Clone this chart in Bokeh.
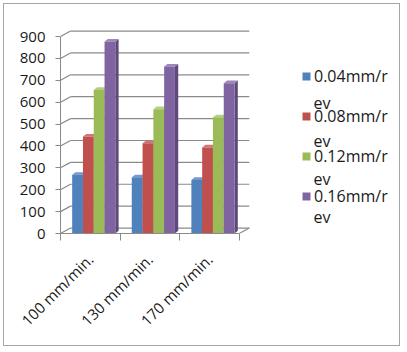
import math
from bokeh.plotting import figure
from bokeh.models import FixedTicker, Legend, LegendItem, Range1d, Label
from bokeh.embed import file_html
from bokeh.resources import INLINE

# ---- data ----
categories = ["100 mm/min.", "130 mm/min.", "170 mm/min."]
series_first_line = ["0.04mm/r", "0.08mm/r", "0.12mm/r", "0.16mm/r"]
series_second_line = "ev"
feed_004 = [268, 257, 245]
feed_008 = [443, 412, 393]
feed_012 = [656, 568, 531]
feed_016 = [877, 763, 687]
y_ticks = [0, 100, 200, 300, 400, 500, 600, 700, 800, 900]

series_values = [feed_004, feed_008, feed_012, feed_016]
front_colors = ["#4F81BD", "#C0504D", "#9BBB59", "#8064A2"]
side_colors = ["#3A5F8E", "#923B39", "#738D40", "#5E4A7A"]
top_colors = ["#7398CC", "#D47572", "#B5CF80", "#9C86BB"]

FONT = "Open Sans"
GRAY = "#8a8a8a"

W, H = 397, 343
n_cat = len(categories)
wall_dx = 0.168
wall_dy = 25.0
bar_dx = 0.055
bar_dy = 12.0
bar_w = 0.181
bar_off = 0.196

FRAME_L, FRAME_R = 56, 393
px_per_unit = 59.6
p = figure(width=W, height=H, output_backend="svg", toolbar_location=None,
           x_range=Range1d(0, (FRAME_R - FRAME_L) / px_per_unit), y_range=Range1d(0, 955),
           min_border_left=FRAME_L, min_border_right=W - FRAME_R,
           min_border_top=20, min_border_bottom=H - 229)
p.margin = (3, 0, 0, 3)
p.styles = {"border": "1px solid #a6a6a6"}
p.xgrid.visible = False
p.ygrid.visible = False
p.outline_line_color = None

# back wall gridlines
gx0, gy0, gx1, gy1 = [], [], [], []
for v in y_ticks:
    gx0 += [0, wall_dx]
    gy0 += [v, v + wall_dy]
    gx1 += [wall_dx, n_cat + wall_dx]
    gy1 += [v + wall_dy, v + wall_dy]
gx0.append(n_cat); gy0.append(0); gx1.append(n_cat + wall_dx); gy1.append(wall_dy)
p.segment(x0=gx0, y0=gy0, x1=gx1, y1=gy1, line_color=GRAY, line_width=1.2)

# bars
items = []
for s, vals in enumerate(series_values):
    lefts = [c + bar_off + s * bar_w for c in range(n_cat)]
    rights = [l + bar_w for l in lefts]
    side_xs = [[r, r + bar_dx, r + bar_dx, r] for r in rights]
    side_ys = [[0, bar_dy, v + bar_dy, v] for v in vals]
    top_xs = [[l, r, r + bar_dx, l + bar_dx] for l, r in zip(lefts, rights)]
    top_ys = [[v, v, v + bar_dy, v + bar_dy] for v in vals]
    p.patches(side_xs, side_ys, fill_color=side_colors[s], line_color=None)
    p.patches(top_xs, top_ys, fill_color=top_colors[s], line_color=None)
    r_front = p.quad(left=lefts, right=rights, bottom=[0] * n_cat, top=vals,
                     fill_color=front_colors[s], line_color=None)
    items.append(LegendItem(label=series_first_line[s], renderers=[r_front]))

# axes
yax = p.yaxis[0]
yax.ticker = FixedTicker(ticks=y_ticks)
yax.bounds = (0, 900)
yax.axis_line_color = GRAY
yax.major_tick_line_color = GRAY
yax.major_tick_out = 5
yax.major_tick_in = 0
yax.minor_tick_out = 0
yax.minor_tick_in = 0
yax.major_label_standoff = 10
yax.major_label_text_font = FONT
yax.major_label_text_font_size = "15px"
yax.major_label_text_color = "#1a1a1a"

xax = p.xaxis[0]
xax.ticker = FixedTicker(ticks=[0.5, 1.5, 2.5], minor_ticks=[0, 1, 2, 3])
xax.bounds = (0, n_cat)
xax.major_label_overrides = {0.5: categories[0], 1.5: categories[1], 2.5: categories[2]}
xax.major_label_orientation = math.pi / 4
xax.axis_line_color = GRAY
xax.major_tick_out = 0
xax.major_tick_in = 0
xax.minor_tick_out = 7
xax.minor_tick_in = 0
xax.minor_tick_line_color = GRAY
xax.major_label_standoff = 16
xax.major_label_text_font = FONT
xax.major_label_text_font_size = "15px"
xax.major_label_text_color = "#1a1a1a"

# legend (to the right of the bars, inside the extended frame)
legend = Legend(items=items, location=(241, 26), margin=0, padding=0,
                glyph_width=10, glyph_height=10, label_standoff=3,
                label_height=20, spacing=18, border_line_color=None,
                background_fill_alpha=0,
                label_text_font=FONT, label_text_font_size="16px",
                label_text_color="#1a1a1a")
p.add_layout(legend, "center")
for k in range(len(series_first_line)):
    p.add_layout(Label(x=253, y=233 - (83 + 19 + k * 38.3), x_units="screen", y_units="screen",
                       text=series_second_line, text_font=FONT, text_font_size="16px",
                       text_color="#1a1a1a", text_baseline="middle", text_align="left"))

open("out.html", "w").write(file_html(p, INLINE))
